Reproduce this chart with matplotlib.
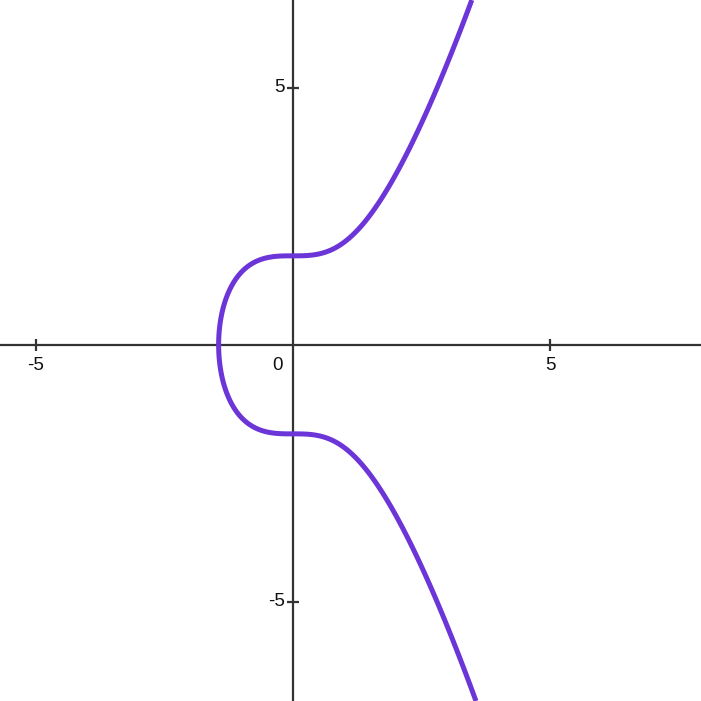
import numpy as np
import matplotlib
matplotlib.use("Agg")
import matplotlib.pyplot as plt

# Curve: y^2 = x^3 + a*x + b
coef_a = 0.0
coef_b = 3.0
x_ticks = [-5, 5]
y_ticks = [5, -5]
x_range = (-5.69, 7.93)
y_range = (-6.93, 6.71)

curve_color = "#6c35d8"
axis_color = "#333333"

fig = plt.figure(figsize=(7.01, 7.01), dpi=100)
ax = fig.add_axes([0, 0, 1, 1])
ax.set_xlim(*x_range)
ax.set_ylim(*y_range)

xs = np.linspace(x_range[0], x_range[1], 1400)
ys = np.linspace(y_range[0], y_range[1], 1400)
X, Y = np.meshgrid(xs, ys)
F = Y**2 - (X**3 + coef_a * X + coef_b)
ax.contour(X, Y, F, levels=[0], colors=[curve_color], linewidths=3.6, zorder=3)

for s in ["top", "right"]:
    ax.spines[s].set_visible(False)
ax.spines["left"].set_position(("data", 0))
ax.spines["bottom"].set_position(("data", 0))
for s in ["left", "bottom"]:
    ax.spines[s].set_color(axis_color)
    ax.spines[s].set_linewidth(1.6)
    ax.spines[s].set_zorder(2)

ax.set_xticks(x_ticks)
ax.set_yticks(y_ticks)
ax.tick_params(direction="inout", length=9, width=1.6, color=axis_color,
               labelbottom=False, labelleft=False)

fs = 13.5
for t in x_ticks:
    ax.annotate(str(t), xy=(t, 0), xytext=(0, -9), textcoords="offset points",
                ha="center", va="top", fontsize=fs, family="Liberation Sans", color="#111111")
for t in y_ticks:
    ax.annotate(str(t), xy=(0, t), xytext=(-6, 0), textcoords="offset points",
                ha="right", va="center", fontsize=fs, family="Liberation Sans", color="#111111")
ax.annotate("0", xy=(0, 0), xytext=(-7, -9), textcoords="offset points",
            ha="right", va="top", fontsize=fs, family="Liberation Sans", color="#111111")

fig.savefig("out.png", dpi=100)
